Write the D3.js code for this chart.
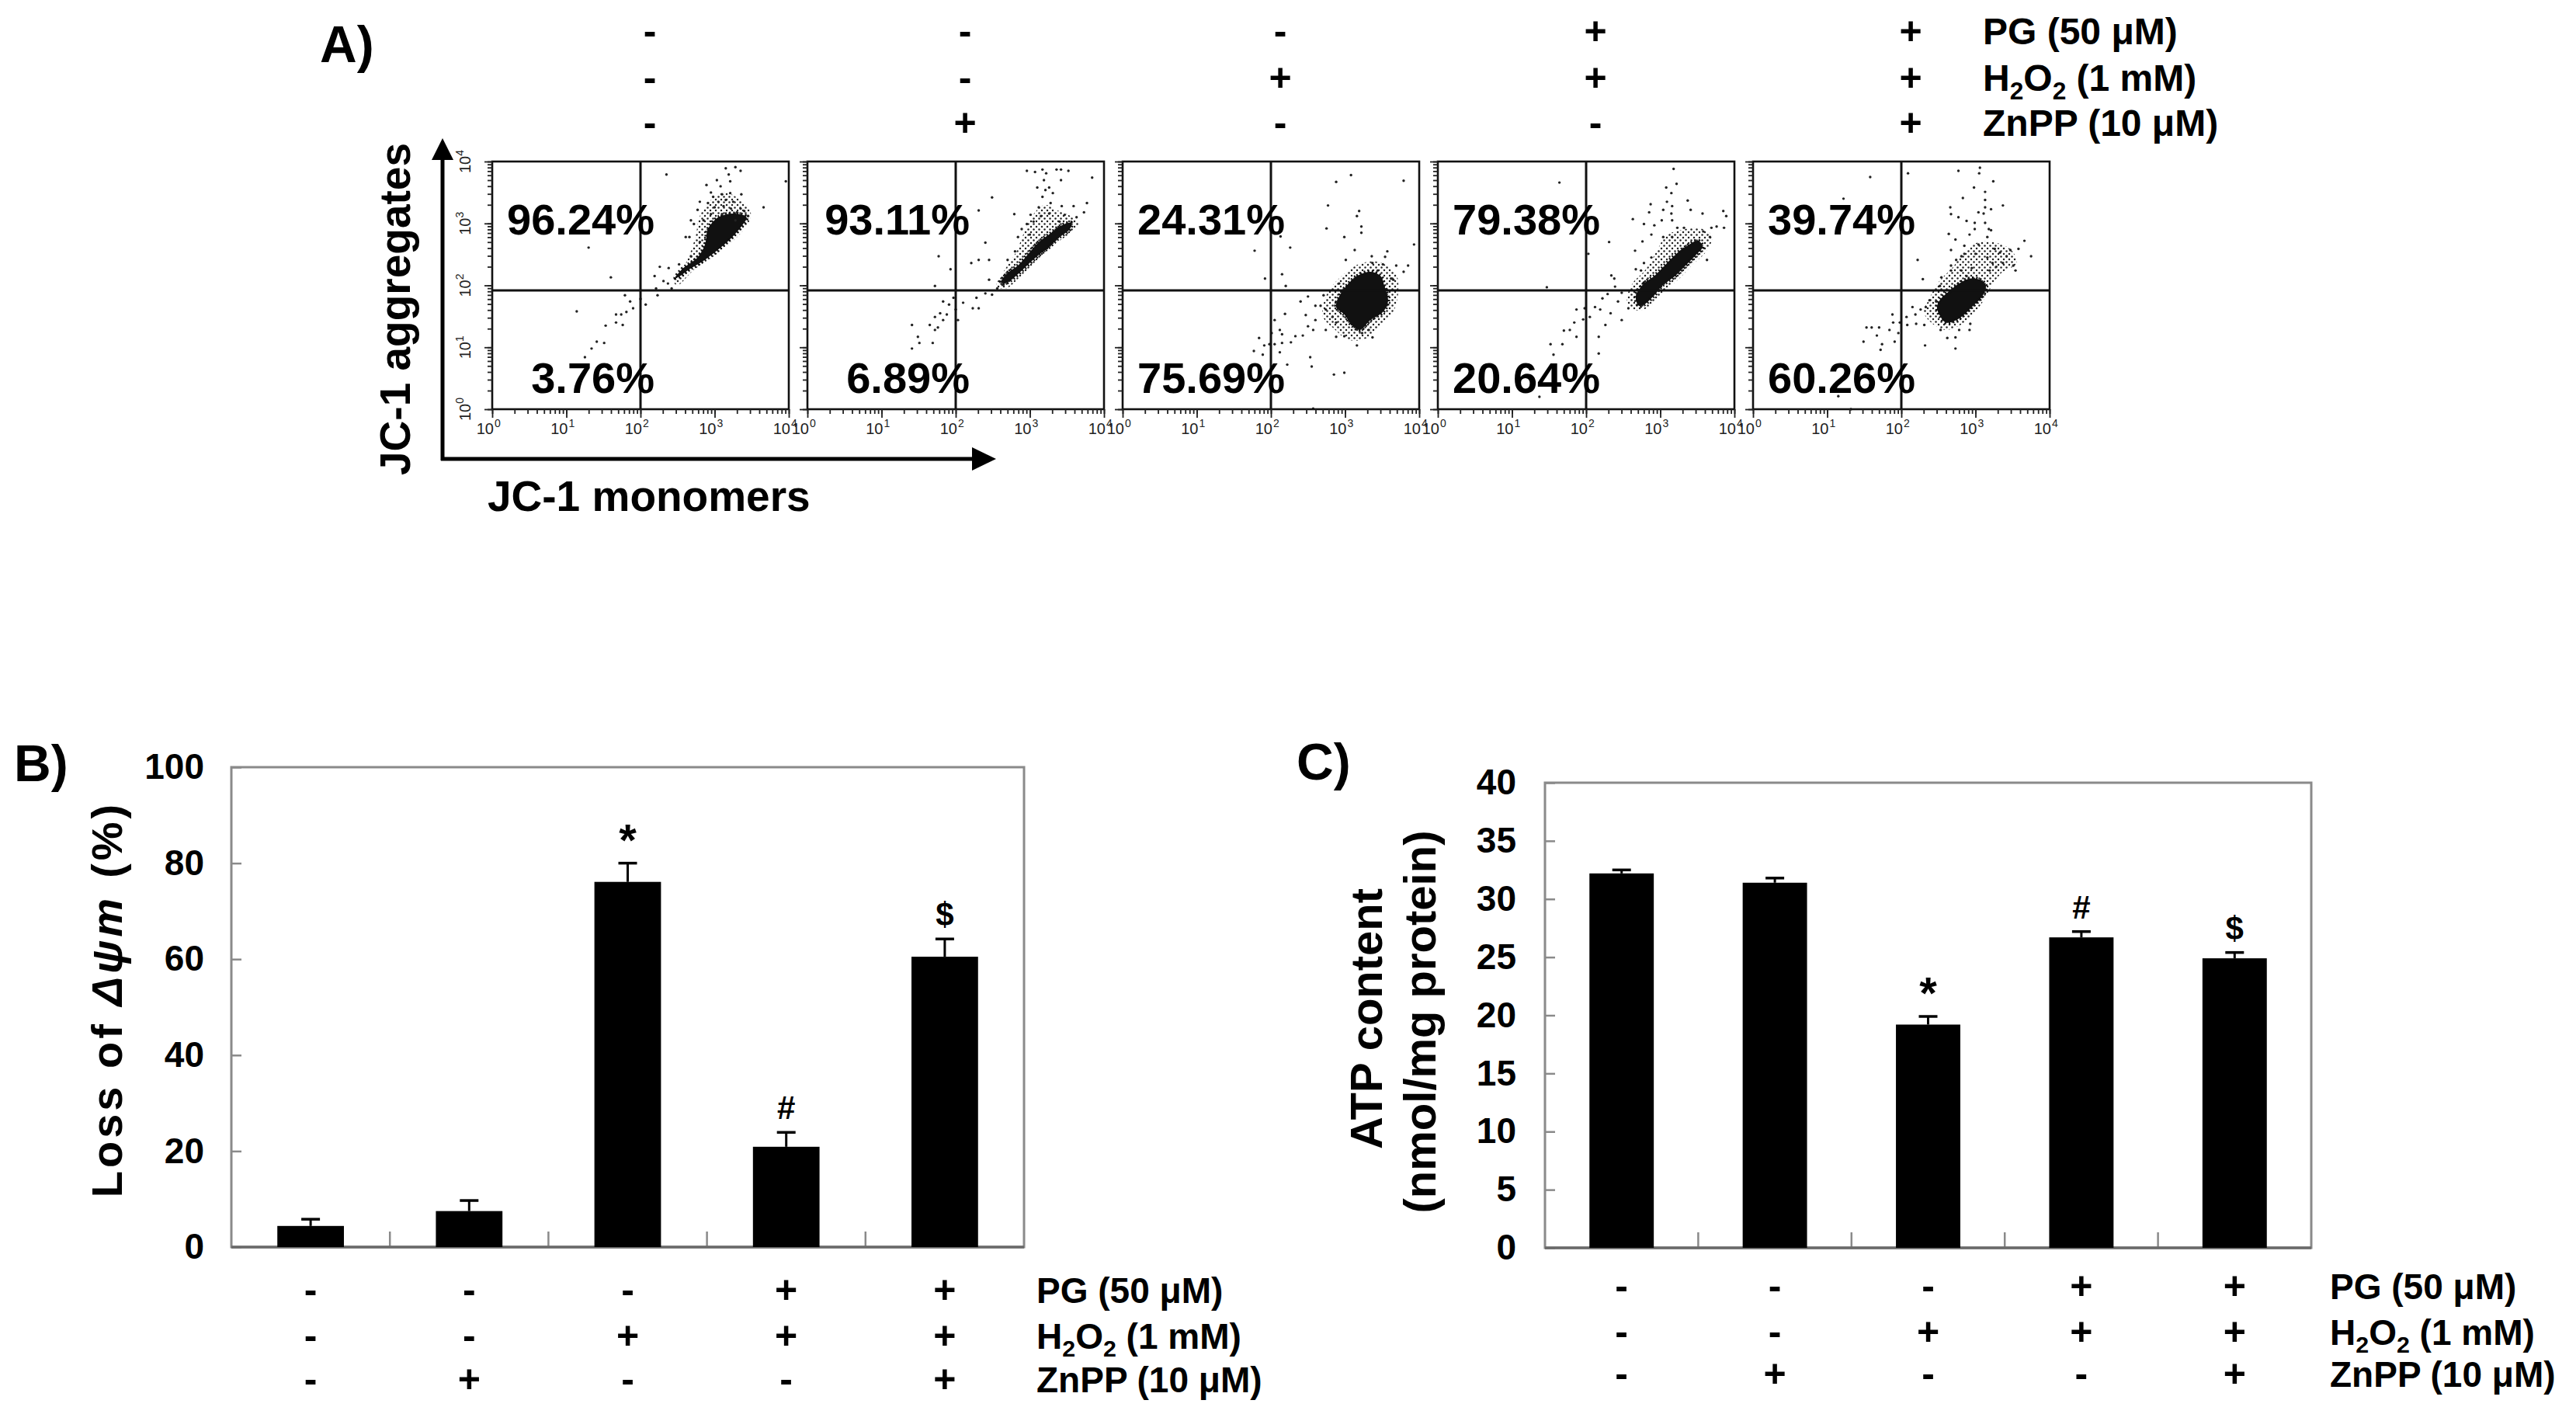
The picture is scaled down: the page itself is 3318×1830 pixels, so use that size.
<!DOCTYPE html>
<html><head><meta charset="utf-8">
<script src="https://cdn.jsdelivr.net/npm/d3@7"></script>
<style>
body{margin:0;background:#fff}
svg{display:block}
text{font-family:"Liberation Sans",Arial,Helvetica,sans-serif}
</style>
</head><body>
<svg id="c" width="3318" height="1830"></svg>
<script>
// ---------------- DATA ----------------
const treatmentLabels = [
  [["PG (50 μM)",0]],
  [["H",0],["2",1],["O",0],["2",1],[" (1 mM)",0]],
  [["ZnPP (10 μM)",0]]
];
const pgSigns   = ["-","-","-","+","+"];
const h2o2Signs = ["-","-","+","+","+"];
const znppSigns = ["-","+","-","-","+"];

// Panel A: flow cytometry quadrant percentages
const aggregatePct = [96.24, 93.11, 24.31, 79.38, 39.74];
const monomerPct   = [3.76, 6.89, 75.69, 20.64, 60.26];
const gateX = 2.0;   // log10 monomer gate
const gateY = 1.92;  // log10 aggregate gate
const decades = [0, 1, 2, 3, 4];

// scattered events, [log10 monomers, log10 aggregates]
const dots1 = [[2.35,3.79],[2.89,3.62],[3.15,3.89],[3.28,3.91],[3.35,3.85],[3.19,3.79],[3.03,3.70],[3.08,3.60],[3.21,3.68],[3.21,3.49],[3.10,3.47],[3.36,3.47],[2.98,3.43],[2.80,3.35],[2.91,3.33],[2.77,3.22],[3.00,3.26],[3.12,3.28],[3.22,3.24],[3.35,3.24],[3.66,3.26],[3.96,3.68],[3.45,3.12],[2.68,3.05],[2.72,2.99],[2.61,2.78],[2.66,2.78],[2.80,2.70],[2.68,2.47],[2.52,2.34],[2.38,2.28],[2.26,2.30],[2.19,2.15],[2.37,2.03],[2.42,1.95],[2.31,2.07],[2.21,1.95],[2.07,1.69],[2.00,1.78],[2.23,1.84],[1.86,1.74],[1.79,1.84],[1.90,1.63],[1.81,1.57],[1.67,1.53],[1.74,1.53],[1.67,1.40],[1.76,1.36],[1.53,1.35],[1.51,1.07],[1.41,1.09],[1.34,0.98],[1.25,0.84],[1.14,1.58],[1.30,2.61],[1.60,2.13],[2.95,3.15],[3.05,3.35],[3.15,3.38],[3.25,3.35],[3.30,3.18],[2.85,3.05],[3.40,3.20],[2.95,3.50],[3.10,3.15],[3.28,3.05]];
const dots2 = [[2.96,3.85],[3.07,3.83],[3.17,3.87],[3.22,3.81],[3.36,3.87],[3.42,3.87],[3.52,3.85],[3.84,3.74],[3.19,3.70],[3.42,3.70],[3.10,3.58],[3.21,3.54],[3.17,3.43],[3.26,3.58],[3.31,3.49],[3.28,3.33],[3.43,3.28],[3.59,3.28],[3.77,3.33],[3.12,3.26],[3.01,3.14],[3.05,3.03],[3.15,3.12],[3.26,3.16],[3.40,3.03],[3.47,3.14],[3.63,3.10],[3.73,3.18],[2.89,2.91],[2.96,2.99],[3.00,2.82],[2.84,2.78],[2.80,2.55],[2.70,2.41],[2.49,3.42],[2.31,3.21],[2.79,3.15],[2.40,2.69],[2.31,2.41],[2.45,2.41],[2.21,2.36],[1.77,2.47],[1.93,2.26],[1.72,1.99],[2.45,2.09],[2.63,2.01],[2.56,1.95],[2.40,1.87],[2.49,1.85],[2.28,1.80],[2.10,1.72],[2.23,1.63],[2.31,1.63],[2.00,1.61],[1.91,1.69],[1.83,1.74],[1.79,1.55],[1.88,1.53],[1.72,1.49],[1.83,1.44],[2.03,1.44],[1.65,1.36],[1.72,1.28],[1.76,1.32],[1.41,1.36],[1.49,1.17],[1.51,1.07],[1.41,0.98],[1.69,1.07],[1.97,1.80]];
const dots3 = [[3.08,3.78],[2.88,3.67],[3.79,3.69],[2.77,3.29],[3.16,3.12],[3.19,3.20],[3.22,2.95],[3.22,2.85],[2.75,2.92],[2.99,2.78],[3.13,2.57],[3.01,2.41],[2.26,2.61],[2.13,2.79],[1.78,2.56],[3.36,2.47],[3.54,2.46],[3.57,2.55],[3.37,2.36],[3.51,2.34],[3.69,2.32],[3.85,2.32],[3.93,2.66],[3.65,2.09],[3.62,2.11],[3.79,2.22],[3.44,2.24],[2.92,2.03],[2.20,1.99],[2.15,2.18],[1.92,2.11],[2.40,1.74],[2.50,1.82],[2.71,1.84],[2.60,1.67],[2.67,1.67],[2.74,1.61],[2.83,1.49],[2.88,1.40],[2.60,1.44],[2.50,1.34],[2.74,1.28],[2.47,1.52],[2.19,1.54],[2.05,1.44],[2.12,1.28],[2.01,1.23],[2.15,1.21],[2.33,1.18],[2.43,1.19],[2.57,1.28],[2.27,1.08],[2.15,1.07],[2.05,1.05],[1.98,1.05],[1.91,1.03],[1.84,1.15],[1.77,0.94],[1.89,0.88],[2.12,0.92],[2.53,0.84],[2.55,0.69],[2.85,0.56],[2.99,0.59],[2.22,0.72],[2.88,1.17],[2.99,1.18],[3.16,1.03],[3.23,1.23],[3.37,1.16],[3.32,1.28],[2.57,0.01]];
const dots4 = [[3.18,3.88],[3.22,3.64],[3.08,3.58],[3.15,3.49],[3.09,3.35],[3.16,3.28],[3.37,3.37],[2.87,3.31],[2.85,3.18],[3.04,3.22],[3.15,3.16],[3.41,3.22],[3.57,3.16],[3.85,3.20],[3.89,3.12],[3.16,3.05],[3.02,3.05],[2.92,2.97],[3.23,2.93],[3.32,2.93],[2.78,2.99],[2.63,3.07],[2.88,2.82],[3.04,2.78],[2.76,2.71],[3.16,2.78],[3.58,2.87],[3.69,2.93],[3.76,2.95],[3.86,2.93],[3.67,2.78],[3.63,2.41],[2.66,2.56],[2.31,2.70],[2.03,2.51],[2.78,2.36],[2.74,2.24],[2.67,2.26],[2.88,2.45],[2.34,2.16],[2.38,2.11],[2.39,1.98],[2.48,1.88],[2.29,1.86],[2.22,1.79],[2.12,1.65],[2.19,1.61],[1.98,1.63],[2.05,1.49],[1.96,1.45],[1.87,1.61],[1.84,1.40],[1.78,1.28],[1.87,1.17],[1.70,1.27],[1.68,1.05],[1.52,1.05],[1.56,0.88],[2.17,1.17],[2.17,0.90],[2.48,1.44],[2.57,1.63],[2.33,1.55],[2.26,1.36],[2.43,1.74],[1.64,3.66],[1.37,0.20],[1.47,1.97]];
const dots5 = [[2.77,3.85],[3.06,3.90],[3.05,3.81],[2.09,3.81],[1.58,3.75],[3.24,3.68],[2.98,3.58],[3.13,3.51],[2.83,3.41],[3.13,3.38],[1.22,3.40],[3.37,3.29],[2.66,3.26],[2.67,3.15],[3.13,3.26],[3.11,3.16],[3.21,3.23],[3.04,3.18],[2.77,3.10],[2.88,3.04],[2.99,3.01],[3.13,3.01],[3.18,2.91],[3.21,2.89],[2.99,2.91],[2.64,2.83],[2.92,2.82],[3.16,2.78],[2.73,2.74],[2.85,2.64],[3.04,2.66],[3.26,2.59],[3.33,2.53],[3.47,2.57],[3.58,2.59],[3.66,2.72],[3.75,2.47],[3.42,2.47],[3.51,2.32],[3.37,2.36],[3.23,2.36],[3.16,2.45],[3.00,2.51],[2.85,2.51],[2.81,2.47],[2.67,2.57],[2.74,2.41],[2.67,2.32],[2.67,2.24],[2.81,2.24],[2.95,2.28],[2.88,2.15],[3.19,2.24],[3.28,2.30],[3.54,2.24],[2.22,2.41],[2.29,2.10],[2.54,2.13],[2.52,1.99],[2.38,1.76],[2.47,1.74],[2.33,1.65],[2.26,1.61],[2.15,1.65],[2.19,1.53],[2.07,1.49],[2.08,1.36],[1.98,1.40],[1.88,1.53],[1.89,1.40],[1.84,1.28],[1.70,1.32],[1.60,1.32],[1.53,1.32],[1.67,1.19],[1.49,1.09],[1.74,1.05],[1.72,0.96],[1.91,1.09],[1.96,1.23],[2.20,1.38],[2.31,1.36],[2.53,1.28],[2.62,1.15],[2.73,1.16],[2.73,0.98],[2.78,1.28],[2.92,1.28],[2.93,1.38],[2.32,1.03],[1.15,0.21],[1.32,0.00]];
// outlines of the densest event clouds, same units
const core1 = [[2.47,2.12],[2.56,2.26],[2.77,2.45],[2.87,2.66],[2.91,2.91],[3.05,3.10],[3.26,3.16],[3.43,3.10],[3.36,2.95],[3.22,2.76],[3.05,2.58],[2.84,2.39],[2.66,2.26],[2.52,2.14]];
const core2 = [[2.61,2.05],[2.70,2.20],[2.84,2.32],[2.98,2.51],[3.12,2.70],[3.26,2.82],[3.40,2.95],[3.56,3.01],[3.54,2.91],[3.40,2.78],[3.26,2.62],[3.08,2.45],[2.91,2.26],[2.77,2.11],[2.66,2.03]];
const core3 = [[3.02,1.99],[3.16,2.15],[3.34,2.22],[3.48,2.15],[3.53,1.99],[3.58,1.74],[3.51,1.57],[3.34,1.44],[3.20,1.28],[3.09,1.36],[2.99,1.53],[2.88,1.65],[2.92,1.82]];
const core4 = [[2.67,1.82],[2.78,2.03],[2.92,2.15],[3.06,2.32],[3.20,2.49],[3.34,2.62],[3.51,2.72],[3.57,2.62],[3.48,2.49],[3.34,2.32],[3.20,2.15],[3.02,1.99],[2.92,1.84],[2.78,1.69],[2.71,1.67]];
const core5 = [[2.53,1.78],[2.64,1.90],[2.78,2.03],[2.92,2.11],[3.06,2.09],[3.14,1.99],[3.09,1.82],[2.95,1.65],[2.85,1.53],[2.74,1.44],[2.60,1.40],[2.52,1.51],[2.48,1.65]];
// outlines of the medium-density halo around each cloud
const halo1 = [[2.45,2.05],[2.62,2.38],[2.74,2.78],[2.80,3.12],[2.95,3.38],[3.12,3.50],[3.30,3.42],[3.48,3.22],[3.46,3.02],[3.25,2.72],[3.00,2.48],[2.72,2.25],[2.50,2.00]];
const halo2 = [[2.55,1.98],[2.66,2.25],[2.82,2.55],[2.92,2.85],[3.05,3.15],[3.20,3.30],[3.35,3.22],[3.55,3.12],[3.66,3.00],[3.55,2.85],[3.32,2.65],[3.10,2.40],[2.88,2.15],[2.68,1.95]];
const halo3 = [[2.80,1.95],[2.98,2.18],[3.20,2.35],[3.45,2.38],[3.68,2.20],[3.72,1.95],[3.66,1.60],[3.50,1.38],[3.30,1.15],[3.05,1.12],[2.85,1.30],[2.70,1.50],[2.72,1.75]];
const halo4 = [[2.55,1.75],[2.62,2.02],[2.80,2.25],[2.95,2.55],[3.08,2.80],[3.30,2.90],[3.55,2.92],[3.70,2.80],[3.62,2.55],[3.45,2.35],[3.25,2.10],[3.05,1.90],[2.85,1.65],[2.65,1.60]];
const halo5 = [[2.35,1.72],[2.50,2.05],[2.70,2.30],[2.85,2.55],[3.05,2.70],[3.30,2.68],[3.50,2.55],[3.55,2.35],[3.35,2.20],[3.20,1.95],[3.05,1.65],[2.85,1.40],[2.60,1.28],[2.40,1.40],[2.30,1.58]];
const panelDots  = [dots1, dots2, dots3, dots4, dots5];
const panelCores = [core1, core2, core3, core4, core5];
const panelHalos = [halo1, halo2, halo3, halo4, halo5];

// Panel B: loss of mitochondrial membrane potential (%)
const lossMean  = [4.4, 7.5, 76.1, 20.9, 60.5];
const lossErr   = [1.4, 2.2, 3.9, 3.0, 3.7];
const lossMarks = ["", "", "*", "#", "$"];
const lossTicks = [0, 20, 40, 60, 80, 100];

// Panel C: ATP content (nmol/mg protein)
const atpMean  = [32.2, 31.4, 19.2, 26.7, 24.9];
const atpErr   = [0.3, 0.4, 0.7, 0.5, 0.5];
const atpMarks = ["", "", "*", "#", "$"];
const atpTicks = [0, 5, 10, 15, 20, 25, 30, 35, 40];

// ---------------- DRAW ----------------
const svg = d3.select("#c");
const FONT = '"Liberation Sans", Arial, Helvetica, sans-serif';
const signRows = [pgSigns, h2o2Signs, znppSigns];

const pat = svg.append("defs").append("pattern").attr("id", "speck")
  .attr("width", 7).attr("height", 7).attr("patternUnits", "userSpaceOnUse");
pat.append("circle").attr("cx", 1.5).attr("cy", 1.5).attr("r", 1.25).attr("fill", "#222");
pat.append("circle").attr("cx", 5).attr("cy", 5).attr("r", 1.25).attr("fill", "#222");

function richLabel(x, y, segs, fs) {
  const t = svg.append("text").attr("x", x).attr("y", y)
    .attr("font-size", fs).attr("font-weight", "bold");
  let sub = false;
  segs.forEach(s => {
    const ts = t.append("tspan").text(s[0]);
    if (s[1] && !sub) { ts.attr("font-size", fs * 0.66).attr("dy", fs * 0.22); sub = true; }
    else if (!s[1] && sub) { ts.attr("dy", -fs * 0.22); sub = false; }
  });
}

function signTable(colX, rowY, labelX, signFs, labelFs) {
  signRows.forEach((row, r) => {
    svg.append("g").selectAll("text").data(row).join("text")
      .attr("x", (d, i) => colX[i]).attr("y", rowY[r] + signFs * 0.34)
      .attr("text-anchor", "middle").attr("font-size", signFs)
      .attr("font-weight", "bold").text(d => d);
    richLabel(labelX, rowY[r] + labelFs * 0.36, treatmentLabels[r], labelFs);
  });
}

function panelLabel(txt, x, y) {
  svg.append("text").attr("x", x).attr("y", y).attr("font-size", 66)
    .attr("font-weight", "bold").text(txt);
}

// ---- Panel A ----
panelLabel("A)", 412, 80);
const flowLeft0 = 634, flowStep = 406, flowW = 382, flowTop = 208, flowBottom = 527;
const aCols = [];
panelDots.forEach((dots, i) => {
  const L = flowLeft0 + i * flowStep;
  const fx = d3.scaleLog().domain([1, 1e4]).range([L, L + flowW]);
  const fy = d3.scaleLog().domain([1, 1e4]).range([flowBottom, flowTop]);
  aCols.push(L + flowW / 2 + 12);
  const g = svg.append("g");
  const line = d3.line().x(d => fx(10 ** d[0])).y(d => fy(10 ** d[1])).curve(d3.curveCatmullRomClosed);
  g.append("path").datum(panelHalos[i]).attr("d", line).attr("fill", "url(#speck)");
  g.append("path").datum(panelCores[i]).attr("d", line).attr("fill", "#111")
    .attr("stroke", "#111").attr("stroke-width", 5).attr("stroke-dasharray", "2 3");
  g.append("g").selectAll("circle").data(dots).join("circle")
    .attr("cx", d => fx(10 ** d[0])).attr("cy", d => fy(10 ** d[1]))
    .attr("r", 1.7).attr("fill", "#222");
  g.append("rect").attr("x", L).attr("y", flowTop).attr("width", flowW)
    .attr("height", flowBottom - flowTop).attr("fill", "none")
    .attr("stroke", "#111").attr("stroke-width", 2.6);
  g.append("line").attr("x1", fx(10 ** gateX)).attr("x2", fx(10 ** gateX))
    .attr("y1", flowTop).attr("y2", flowBottom).attr("stroke", "#111").attr("stroke-width", 3);
  g.append("line").attr("x1", L).attr("x2", L + flowW)
    .attr("y1", fy(10 ** gateY)).attr("y2", fy(10 ** gateY)).attr("stroke", "#111").attr("stroke-width", 3);
  // log ticks
  const majors = decades.map(d => 10 ** d);
  const addAxis = (axis, tr) => {
    const a = g.append("g").attr("transform", tr).call(axis);
    a.select(".domain").remove();
    a.selectAll("line").attr("stroke", "#222").attr("stroke-width", 1.8);
  };
  addAxis(d3.axisBottom(fx).tickValues(fx.ticks()).tickSize(6).tickFormat(""), `translate(0,${flowBottom})`);
  addAxis(d3.axisBottom(fx).tickValues(majors).tickSize(11).tickFormat(""), `translate(0,${flowBottom})`);
  addAxis(d3.axisLeft(fy).tickValues(fy.ticks()).tickSize(6).tickFormat(""), `translate(${L},0)`);
  addAxis(d3.axisLeft(fy).tickValues(majors).tickSize(10).tickFormat(""), `translate(${L},0)`);
  // decade labels
  decades.forEach(d => {
    const x = fx(10 ** d);
    g.append("text").attr("x", x + 2).attr("y", flowBottom + 32).attr("text-anchor", "end")
      .attr("font-size", 20).attr("fill", "#222").text("10");
    g.append("text").attr("x", x + 3).attr("y", flowBottom + 23)
      .attr("font-size", 14).attr("fill", "#222").text(d);
    if (i === 0) {
      const t = g.append("text").attr("transform", `translate(606,${fy(10 ** d)}) rotate(-90)`)
        .attr("text-anchor", "middle").attr("font-size", 20).attr("fill", "#222");
      t.append("tspan").text("10");
      t.append("tspan").attr("font-size", 14).attr("dy", -9).text(d);
    }
  });
  // quadrant percentages
  g.append("text").attr("x", fx(10 ** gateX) + 18).attr("y", flowTop + 94)
    .attr("text-anchor", "end").attr("font-size", 56).attr("font-weight", "bold")
    .text(aggregatePct[i].toFixed(2) + "%");
  g.append("text").attr("x", fx(10 ** gateX) + 18).attr("y", flowBottom - 21)
    .attr("text-anchor", "end").attr("font-size", 56).attr("font-weight", "bold")
    .text(monomerPct[i].toFixed(2) + "%");
});
signTable(aCols, [40, 100, 158], 2554, 50, 48);

// axes arrows
svg.append("line").attr("x1", 570).attr("y1", 593).attr("x2", 570).attr("y2", 204)
  .attr("stroke", "#000").attr("stroke-width", 5);
svg.append("path").attr("d", "M556,206 L584,206 L570,178 Z").attr("fill", "#000");
svg.append("line").attr("x1", 568).attr("y1", 591).attr("x2", 1254).attr("y2", 591)
  .attr("stroke", "#000").attr("stroke-width", 5);
svg.append("path").attr("d", "M1252,576 L1252,606 L1283,591 Z").attr("fill", "#000");
svg.append("text").attr("transform", "translate(528,398) rotate(-90)")
  .attr("text-anchor", "middle").attr("font-size", 55).attr("font-weight", "bold").text("JC-1 aggregates");
svg.append("text").attr("x", 628).attr("y", 658).attr("font-size", 55)
  .attr("font-weight", "bold").text("JC-1 monomers");

// ---- Bar charts ----
function barChart(o) {
  const x = d3.scaleBand().domain(d3.range(o.mean.length)).range([o.L, o.R])
    .paddingInner(0.58).paddingOuter(0.29);
  const y = d3.scaleLinear().domain([0, o.max]).range([o.B, o.T]);
  const g = svg.append("g");
  g.append("rect").attr("x", o.L).attr("y", o.T).attr("width", o.R - o.L).attr("height", o.B - o.T)
    .attr("fill", "none").attr("stroke", "#8a8a8a").attr("stroke-width", 3);
  const ax = g.append("g").attr("transform", `translate(${o.L},0)`)
    .call(d3.axisLeft(y).tickValues(o.ticks).tickSize(-13).tickPadding(o.pad));
  ax.select(".domain").remove();
  ax.selectAll("line").attr("stroke", "#8a8a8a").attr("stroke-width", 2.5);
  ax.selectAll("text").attr("font-size", 46).attr("font-weight", "bold")
    .attr("font-family", FONT).attr("fill", "#000");
  // category separator ticks
  const seps = x.domain().slice(1).map(d => x(d) - x.step() * x.paddingInner() / 2);
  g.append("g").selectAll("line").data(seps).join("line")
    .attr("x1", d => d).attr("x2", d => d).attr("y1", o.B).attr("y2", o.B - 20)
    .attr("stroke", "#8a8a8a").attr("stroke-width", 2.5);
  g.append("line").attr("x1", o.L).attr("x2", o.R).attr("y1", o.B).attr("y2", o.B)
    .attr("stroke", "#6a6a6a").attr("stroke-width", 3.5);
  const idx = d3.range(o.mean.length);
  const cx = i => x(i) + x.bandwidth() / 2;
  // error bars
  g.append("g").selectAll("line").data(idx).join("line")
    .attr("x1", cx).attr("x2", cx)
    .attr("y1", i => y(o.mean[i])).attr("y2", i => y(o.mean[i] + o.err[i]))
    .attr("stroke", "#000").attr("stroke-width", 3);
  g.append("g").selectAll("line").data(idx).join("line")
    .attr("x1", i => cx(i) - 12).attr("x2", i => cx(i) + 12)
    .attr("y1", i => y(o.mean[i] + o.err[i])).attr("y2", i => y(o.mean[i] + o.err[i]))
    .attr("stroke", "#000").attr("stroke-width", 3.5);
  g.append("g").selectAll("rect").data(idx).join("rect")
    .attr("x", i => x(i)).attr("width", x.bandwidth())
    .attr("y", i => y(o.mean[i])).attr("height", i => o.B - y(o.mean[i]))
    .attr("fill", "#000");
  g.append("g").selectAll("text").data(idx).join("text")
    .attr("x", cx).attr("y", i => y(o.mean[i] + o.err[i]) - (o.marks[i] === "*" ? 10 : 17))
    .attr("text-anchor", "middle")
    .attr("font-size", i => o.marks[i] === "*" ? 58 : 42).attr("font-weight", "bold")
    .text(i => o.marks[i]);
  signTable(idx.map(cx), o.rows, o.labelX, 50, 46);
}

panelLabel("B)", 18, 1006);
barChart({L: 298, R: 1319, T: 988, B: 1606, max: 100, ticks: lossTicks, pad: 35,
  mean: lossMean, err: lossErr, marks: lossMarks, rows: [1661, 1720, 1776], labelX: 1335});
const tB = svg.append("text").attr("transform", "translate(157,1287) rotate(-90)")
  .attr("text-anchor", "middle").attr("font-size", 56).attr("font-weight", "bold")
  .attr("letter-spacing", 4);
tB.append("tspan").text("Loss of ");
tB.append("tspan").attr("font-style", "italic").text("Δψm");
tB.append("tspan").attr("dx", 22).text("(%)");

panelLabel("C)", 1670, 1004);
barChart({L: 1990, R: 2977, T: 1008, B: 1607, max: 40, ticks: atpTicks, pad: 37,
  mean: atpMean, err: atpErr, marks: atpMarks, rows: [1656, 1715, 1769], labelX: 3001});
svg.append("text").attr("transform", "translate(1780,1312) rotate(-90)")
  .attr("text-anchor", "middle").attr("font-size", 58).attr("font-weight", "bold").text("ATP content");
svg.append("text").attr("transform", "translate(1849,1316) rotate(-90)")
  .attr("text-anchor", "middle").attr("font-size", 58).attr("font-weight", "bold").text("(nmol/mg protein)");
</script>
</body></html>
